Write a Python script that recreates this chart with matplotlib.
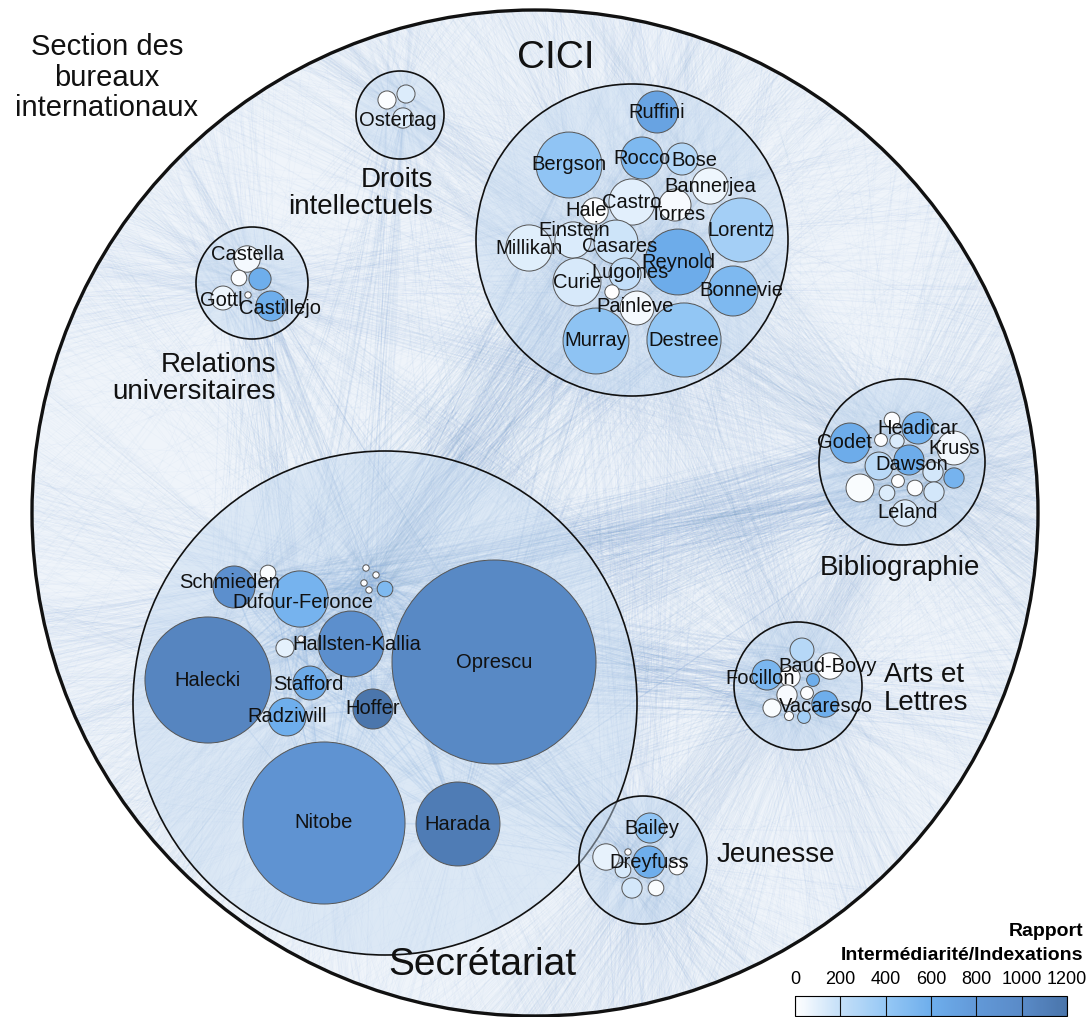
import numpy as np
import matplotlib
matplotlib.use("Agg")
import matplotlib.pyplot as plt
from matplotlib.patches import Circle
from matplotlib.collections import LineCollection
from matplotlib.colors import LinearSegmentedColormap, Normalize
from matplotlib.cm import ScalarMappable

plt.rcParams['font.family'] = ['Liberation Sans', 'DejaVu Sans']

# ---- data: per group, node names, indexations (size) and ratio (colour)
cici_names = ['Ruffini', 'Bergson', 'Rocco', 'Bose', 'Bannerjea', 'Castro', 'Hale',
              'Torres', 'Lorentz', 'Einstein', 'Millikan', 'Casares', 'Reynold',
              'Lugones', 'Curie', '', 'Painleve', 'Bonnevie', 'Murray', 'Destree']
cici_index = [43, 106, 43, 25, 32, 52, 17, 25, 100, 32, 52, 47, 106, 25, 56, 5, 28, 61, 106, 134]
cici_ratio = [700, 430, 520, 280, 60, 100, 10, 30, 340, 130, 110, 170, 620, 210, 140, 5, 40, 520, 440, 420]

secr_names = ['Schmieden', '', 'Dufour-Feronce', '', '', '', '', '', 'Hallsten-Kallia',
              '', '', 'Halecki', 'Stafford', 'Radziwill', 'Hoffer', 'Oprescu', 'Nitobe', 'Harada']
secr_index = [43, 6, 77, 1, 1, 1, 1, 6, 106, 8, 1, 388, 28, 35, 39, 1016, 641, 172]
secr_ratio = [940, 20, 560, 10, 10, 10, 10, 520, 940, 90, 5, 1050, 640, 600, 1190, 1020, 880, 1130]

biblio_names = ['Godet', '', '', '', 'Headicar', 'Kruss', '', 'Dawson', '', '', '', '', '', '', '', 'Leland']
biblio_index = [39, 6, 4, 5, 25, 28, 19, 22, 10, 10, 19, 4, 6, 6, 10, 17]
biblio_ratio = [620, 10, 10, 130, 560, 50, 250, 620, 150, 560, 20, 5, 10, 120, 150, 120]

arts_names = ['', 'Baud-Bovy', 'Focillon', '', '', '', '', 'Vacaresco', '', '', '']
arts_index = [14, 17, 22, 10, 4, 10, 4, 17, 8, 2, 4]
arts_ratio = [260, 10, 540, 10, 600, 30, 10, 600, 20, 10, 350]

jeun_names = ['Bailey', 'Dreyfuss', '', '', '', '', '', '']
jeun_index = [22, 25, 17, 1, 6, 6, 10, 6]
jeun_ratio = [430, 600, 80, 10, 140, 10, 150, 20]

relu_names = ['Castella', '', '', 'Gottl', '', 'Castillejo']
relu_index = [17, 6, 12, 14, 1, 22]
relu_ratio = [40, 15, 600, 60, 5, 600]

droit_names = ['', '', 'Ostertag']
droit_index = [8, 8, 10]
droit_ratio = [15, 120, 120]

ticks = [0, 200, 400, 600, 800, 1000, 1200]

# ---- layout (pixel positions of the packed circles)
cici_xy = [(657, 112), (569, 165), (642, 158), (682, 159), (710, 186), (632, 202), (595, 211),
           (675, 205), (741, 230), (573, 240), (529, 248), (616, 242), (678, 262),
           (625, 274), (577, 282), (612, 292), (637, 308), (733, 291), (596, 341), (684, 340)]
secr_xy = [(234, 587), (268, 573), (300, 599), (366, 568), (376, 575), (364, 583), (369, 590),
           (385, 589), (351, 644), (285, 648), (301, 639), (208, 680), (310, 683), (287, 717),
           (373, 709), (494, 662), (324, 823), (458, 824)]
biblio_xy = [(850, 443), (892, 420), (881, 440), (897, 441), (918, 428), (954, 448), (879, 466),
             (909, 460), (933, 472), (954, 478), (860, 488), (898, 481), (915, 488), (887, 493),
             (934, 492), (905, 513)]
arts_xy = [(802, 650), (830, 666), (767, 675), (790, 677), (813, 680), (787, 695), (807, 693),
           (825, 704), (772, 708), (789, 716), (804, 717)]
jeun_xy = [(650, 828), (649, 862), (606, 857), (628, 852), (623, 870), (677, 867), (632, 888), (656, 888)]
relu_xy = [(247, 259), (239, 278), (260, 279), (223, 298), (248, 295), (271, 306)]
droit_xy = [(387, 100), (406, 94), (403, 118)]

label_nudge = {'Bose': (12, 2), 'Hale': (-9, -1), 'Torres': (3, 10), 'Einstein': (1, -9),
               'Casares': (4, 4), 'Lugones': (5, -2), 'Painleve': (-2, -2), 'Bonnevie': (8, 0),
               'Schmieden': (-4, -5), 'Dufour-Feronce': (3, 3), 'Hallsten-Kallia': (6, 0),
               'Godet': (-5, -1), 'Dawson': (3, 4), 'Leland': (3, -1), 'Focillon': (-7, 4),
               'Baud-Bovy': (-2, 1), 'Vacaresco': (1, 3), 'Castella': (0, -5), 'Gottl': (-2, 2),
               'Castillejo': (9, 2), 'Ostertag': (-5, 2), 'Bailey': (2, 0), 'Stafford': (-2, 2)}

groups = [  # circle centre, radius
    ((632, 240), 156), ((385, 703), 252), ((902, 462), 83), ((798, 686), 64),
    ((643, 860), 64), ((252, 283), 56), ((400, 115), 44)]
outer_c, outer_r = (535, 513), 503

names = cici_names + secr_names + biblio_names + arts_names + jeun_names + relu_names + droit_names
index = np.array(cici_index + secr_index + biblio_index + arts_index + jeun_index + relu_index + droit_index, float)
ratio = np.array(cici_ratio + secr_ratio + biblio_ratio + arts_ratio + jeun_ratio + relu_ratio + droit_ratio, float)
xy = np.array(cici_xy + secr_xy + biblio_xy + arts_xy + jeun_xy + relu_xy + droit_xy, float)
in_secr = np.zeros(len(names), bool)
in_secr[len(cici_names):len(cici_names) + len(secr_names)] = True
radius = 3.2 * np.sqrt(index)

cmap = LinearSegmentedColormap.from_list('rapport', [
    (0.0, '#ffffff'), (200 / 1200, '#c4dff8'), (400 / 1200, '#96c8f5'),
    (600 / 1200, '#6eaeec'), (800 / 1200, '#6299d8'), (1000 / 1200, '#5a8bc8'),
    (1.0, '#4a75ab')])
norm = Normalize(0, 1200)

fig = plt.figure(figsize=(10.89, 10.17), dpi=100)
ax = fig.add_axes([0, 0, 1, 1])
ax.set_xlim(0, 1089)
ax.set_ylim(1017, 0)
ax.axis('off')

ax.add_patch(Circle(outer_c, outer_r, facecolor='#eff4fa', edgecolor='none', zorder=1))

# chords through every pair of nodes, clipped to the outer circle
C = np.array(outer_c, float)
chords, inner, cross = [], [], []
n = len(xy)
for i in range(n):
    for j in range(i + 1, n):
        p, q = xy[i], xy[j]
        d = q - p
        L = np.hypot(*d)
        if L < 1e-6:
            continue
        d = d / L
        b = d @ (p - C)
        c = (p - C) @ (p - C) - outer_r ** 2
        s = np.sqrt(b * b - c)
        chords.append([p + (-b - s) * d, p + (-b + s) * d])
        if in_secr[i] and in_secr[j]:
            inner.append([p, q])
        elif in_secr[i] or in_secr[j]:
            cross.append([p, q])
ax.add_collection(LineCollection(chords, colors='#5b8fd0', linewidths=0.5, alpha=0.035, zorder=2))
ax.add_collection(LineCollection(cross, colors='#5b8fd0', linewidths=0.6, alpha=0.04, zorder=2))
ax.add_collection(LineCollection(inner, colors='#4f88cc', linewidths=1.0, alpha=0.15, zorder=2))

ax.add_patch(Circle(outer_c, outer_r, facecolor='none', edgecolor='#111111', lw=2.4, zorder=3))
for (gc, gr) in groups:
    ax.add_patch(Circle(gc, gr, facecolor='#c6dbf1', alpha=0.45, edgecolor='none', zorder=3))
    ax.add_patch(Circle(gc, gr, facecolor='none', edgecolor='#111111', lw=1.2, zorder=3))

for k in range(n):
    ax.add_patch(Circle(xy[k], radius[k], facecolor=cmap(norm(ratio[k])),
                        edgecolor='#555555', lw=0.7, zorder=4))
for k in range(n):
    if names[k]:
        dx, dy = label_nudge.get(names[k], (0, 0))
        ax.text(xy[k][0] + dx, xy[k][1] + dy, names[k], ha='center', va='center',
                fontsize=14.5, color='#111111', zorder=5)

# group titles
big = dict(color='#111111', va='center', zorder=5)
for t, yy in [('Section des', 47), ('bureaux', 78), ('internationaux', 108)]:
    ax.text(107, yy, t, ha='center', fontsize=21, **big)
ax.text(556, 58, 'CICI', ha='center', fontsize=28, **big)
ax.text(433, 180, 'Droits', ha='right', fontsize=20, **big)
ax.text(433, 207, 'intellectuels', ha='right', fontsize=20, **big)
ax.text(276, 365, 'Relations', ha='right', fontsize=20, **big)
ax.text(276, 392, 'universitaires', ha='right', fontsize=20, **big)
ax.text(900, 568, 'Bibliographie', ha='center', fontsize=20, **big)
ax.text(884, 675, 'Arts et', ha='left', fontsize=20, **big)
ax.text(884, 703, 'Lettres', ha='left', fontsize=20, **big)
ax.text(717, 855, 'Jeunesse', ha='left', fontsize=20, **big)
ax.text(482, 965, 'Secrétariat', ha='center', fontsize=28, **big)

# legend
ax.text(1083, 932, 'Rapport', ha='right', va='center', fontsize=14, fontweight='bold', zorder=5)
ax.text(1083, 955, 'Intermédiarité/Indexations', ha='right', va='center', fontsize=14,
        fontweight='bold', zorder=5)
cax = fig.add_axes([795 / 1089, 1 - 1016 / 1017, 272 / 1089, 20 / 1017])
cb = fig.colorbar(ScalarMappable(norm=norm, cmap=cmap), cax=cax, orientation='horizontal')
cb.set_ticks(ticks)
cax.xaxis.set_ticks_position('top')
cax.tick_params(length=0, pad=6, labelsize=13)
cb.outline.set_linewidth(0.8)
for t in ticks:
    cax.axvline(t, color='#111111', lw=0.8)

fig.savefig('out.png', dpi=100)
